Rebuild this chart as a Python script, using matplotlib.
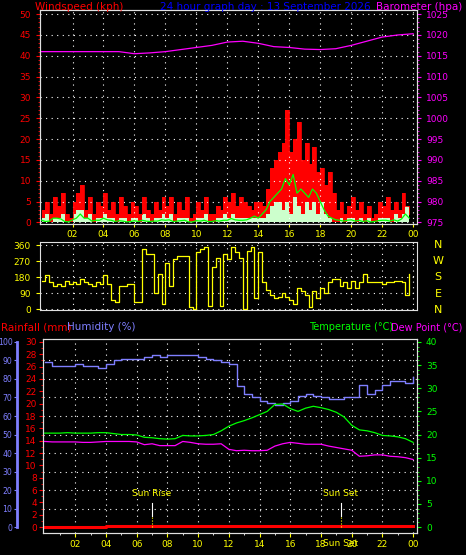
import matplotlib
matplotlib.use("Agg")
import matplotlib.pyplot as plt
import numpy as np

plt.rcParams['font.family'] = ['DejaVu Sans']
FS = 6.5

hours_q = np.arange(96) / 4.0
gust = [3,5,2,6, 4,7,2,1, 5,7,9,3, 6,2,5,4, 7,3,5,2, 6,4,2,5, 4,2,6,3, 2,5,3,6,
        4,6,2,5, 3,6,1,2, 5,3,6,2, 2,4,3,6, 5,7,4,6, 5,4,3,5, 5,4,8,13, 15,17,19,27,
        17,20,24,15, 19,14,18,12, 13,9,12,7, 3,5,2,4, 6,3,5,2, 4,1,2,5, 4,6,3,5, 3,7,4,2]
avgw = [1,2,0,1, 1,2,0,0, 2,3,3,1, 2,0,1,1, 2,1,1,0, 1,1,0,1, 1,0,2,1, 0,1,1,2,
        1,2,0,1, 1,1,0,0, 1,1,2,0, 0,1,1,2, 1,2,1,1, 1,1,1,1, 1,1,2,4, 5,5,3,5,
        2,6,4,2, 5,3,5,2, 5,2,1,0, 0,1,0,1, 1,0,1,0, 1,0,0,1, 1,1,0,2, 1,2,4,1]
avgline = [0.5,0.2,0.3,1, 1,0.8,0.2,0.1, 0.6,1,2,1, 1,0.3,0.5,0.5, 1,0.6,0.5,0.2, 0.4,0.3,0.1,0.2,
           0.4,0.2,0.5,0.3, 0.2,0.3,0.3,0.6, 0.5,0.6,0.2,0.3, 0.4,0.5,0.1,0.1, 0.4,0.3,0.5,0.2,
           0.2,0.4,0.3,0.5, 0.5,0.9,0.6,0.5, 0.5,0.6,1,1.5, 1,2,3,5, 6,7,8,10.5, 9,11.5,7,8,
           7,6,8,7, 5,3,1.5,1, 0.6,0.5,0.3,0.5, 0.6,0.3,0.5,0.2, 0.4,0.1,0.2,0.4, 0.5,0.5,0.3,0.6,
           0.3,0.8,2,1]
hours_h = np.arange(25)
baro = [1016,1016,1016,1016,1016,1016,1015.5,1015.7,1016,1016.5,1017,1017.5,1018.3,1018.5,
        1018,1017.2,1017,1016.6,1016.5,1016.7,1017.5,1018.5,1019.5,1020,1020.3]
wdir = [160,190,150,130, 140,130,160,140, 150,140,170,150, 140,130,150,140, 190,140,50,40,
        130,130,140,140, 40,40,340,310, 310,90,200,30, 260,130,280,300, 300,300,10,0,
        320,340,350,20, 240,290,20,310, 280,350,320,290, 0,330,350,60, 320,150,110,80,
        60,70,90,70, 50,30,120,100, 80,10,100,60, 120,90,150,170, 170,130,150,120,
        160,120,150,200, 150,150,150,150, 140,150,150,160, 160,150,80,200]
hours_30 = np.arange(49) / 2.0
humidity = [89,87,87,87,88,87,87,86,88,90,91,91,91,92,93,92,93,93,93,93,92,91,90,89,88,
            76,72,70,68,67,66,67,68,71,72,71,70,69,69,70,70,77,72,74,77,79,79,78,81]
temperature = [20.3,20.3,20.3,20.4,20.3,20.3,20.3,20.4,20.4,20.2,20.0,20.0,19.9,19.4,19.3,19.1,
               19.0,19.1,19.8,19.7,19.7,19.8,20.0,20.8,21.8,22.5,23.0,23.6,24.3,25.0,26.5,26.6,
               25.6,25.0,25.7,26.1,25.8,25.4,24.8,23.8,22.0,21.0,20.8,20.4,19.8,19.7,19.5,19.1,18.3]
dewpoint = [18.5,18.4,18.4,18.4,18.4,18.3,18.3,18.4,18.5,18.5,18.5,18.5,18.4,17.8,18.0,17.6,
            17.6,17.6,18.5,18.3,18.0,17.9,17.9,18.0,16.8,16.5,16.6,16.5,16.5,16.6,17.5,18.0,
            18.3,18.1,17.9,17.9,17.9,17.5,17.2,16.9,16.6,15.3,15.4,15.6,15.6,15.3,15.2,15.0,14.6]
rain_t = [0, 4, 4, 24]
rain = [0, 0, 0.1, 0.1]
xticks = [2,4,6,8,10,12,14,16,18,20,22,24]
xlabels = ['02','04','06','08','10','12','14','16','18','20','22','00']

W, H = 466, 555
fig = plt.figure(figsize=(W/100, H/100), dpi=100, facecolor='black')
def rect(l, t, r, b):
    return [l/W, 1-b/H, (r-l)/W, (b-t)/H]

YEL = '#ffff00'; RED = '#ff0000'; MAG = '#ff00ff'; BLU = '#7f7fff'; GRN = '#00ff00'

def style(ax):
    ax.set_facecolor('black')
    for s in ax.spines.values():
        s.set_color('#e0e0e0')
    ax.set_xlim(-0.1, 24.25)
    ax.set_xticks(xticks)
    ax.grid(True, color='white', linestyle=(0, (1, 4)), linewidth=0.8)

# Panel 1
ax1 = fig.add_axes(rect(40, 10, 417, 224))
style(ax1)
ax1.set_ylim(-0.4, 51)
ax1.fill_between(hours_q, gust, step='post', color=RED, linewidth=0)
ax1.step(hours_q, gust, where='post', color=RED, linewidth=0.6)
ax1.fill_between(hours_q, avgw, step='post', color='#ccffcc', linewidth=0)
ax1.plot(hours_q, avgline, color=GRN, linewidth=0.9)
ax1.set_yticks(range(0, 51, 5))
ax1.set_yticks(range(0, 51, 1), minor=True)
ax1.tick_params(axis='y', colors=RED, labelsize=FS, direction='out', length=3)
ax1.tick_params(axis='y', which='minor', colors=RED, length=1.5)
ax1.set_xticklabels(xlabels)
ax1.tick_params(axis='x', colors=YEL, labelsize=FS, length=2, pad=2)
ax1b = ax1.twinx()
ax1b.set_ylim(975-0.4, 975+51)
ax1b.plot(hours_h, baro, color=MAG, linewidth=0.9)
ax1b.set_yticks(range(975, 1026, 5))
ax1b.set_yticks(range(975, 1026, 1), minor=True)
ax1b.tick_params(axis='y', colors=MAG, labelsize=FS, length=3)
ax1b.tick_params(axis='y', which='minor', colors=MAG, length=1.5)
for s in ax1b.spines.values():
    s.set_color('#e0e0e0')

fig.text(35/W, 1-7/H, 'Windspeed (kph)', color=RED, fontsize=7.5, va='center')
fig.text(265/W, 1-7/H, '24 hour graph day : 13 September 2026', color='#0000ff', fontsize=7.5, va='center', ha='center')
fig.text(462/W, 1-7/H, 'Barometer (hpa)', color=MAG, fontsize=7.5, va='center', ha='right')

# Panel 2
ax2 = fig.add_axes(rect(40, 242, 417, 310))
style(ax2)
ax2.set_ylim(-5, 378)
ax2.step(hours_q, wdir, where='post', color=YEL, linewidth=0.9)
ax2.set_yticks([0, 90, 180, 270, 360])
ax2.tick_params(axis='y', colors=YEL, labelsize=FS, length=3)
ax2.tick_params(axis='x', labelbottom=False, length=0)
for lab, yy in zip('NWSEN', [245, 261, 277, 294, 310]):
    fig.text(438/W, 1-yy/H, lab, color=YEL, fontsize=8, ha='center', va='center')

# Panel 3
ax3 = fig.add_axes(rect(43, 339, 417, 533))
style(ax3)
ax3.set_ylim(-3.2*0.3, 101.6*0.3)
ax3.plot(rain_t, rain, color=RED, linewidth=2.2)
ax3.set_yticks(range(0, 31, 2))
ax3.set_yticks(range(0, 31, 1), minor=True)
ax3.tick_params(axis='y', colors=RED, labelsize=FS, length=3, pad=1.5)
ax3.tick_params(axis='y', which='minor', colors=RED, length=1.5)
ax3.set_xticks(range(1, 25), minor=True)
ax3.set_xticklabels(xlabels)
ax3.tick_params(axis='x', colors=YEL, labelsize=FS, length=3, pad=2)
ax3.tick_params(axis='x', which='minor', colors='white', length=1.5)
ax3.grid(False, axis='y')
for v in range(10, 100, 10):
    ax3.axhline(v*0.3, color='white', linestyle=(0, (1, 4)), linewidth=0.8)

axh = ax3.twinx()
axh.set_ylim(-3.2, 101.6)
axh.plot(hours_30, humidity, color=BLU, linewidth=1.0, drawstyle='steps-post')
axh.yaxis.set_ticks_position('left')
axh.yaxis.set_label_position('left')
axh.spines['left'].set_position(('outward', 19))
axh.spines['left'].set_color(BLU)
axh.spines['left'].set_linewidth(2)
axh.spines['left'].set_bounds(0, 100)
for k in ['right', 'top', 'bottom']:
    axh.spines[k].set_visible(False)
axh.set_yticks(range(0, 101, 10))
axh.tick_params(axis='y', colors=BLU, labelsize=5.6, length=2, pad=1)

axt = ax3.twinx()
axt.set_ylim(-3.2*0.4, 101.6*0.4)
axt.plot(hours_30, temperature, color=GRN, linewidth=0.9)
axt.plot(hours_30, dewpoint, color=MAG, linewidth=0.9)
axt.set_yticks(range(0, 41, 5))
axt.set_yticks(range(0, 41, 1), minor=True)
axt.tick_params(axis='y', colors=GRN, labelsize=FS, length=3)
axt.tick_params(axis='y', which='minor', colors=GRN, length=1.5)
for s in axt.spines.values():
    s.set_color('#e0e0e0')

for t, lab in [(7.0, 'Sun Rise'), (19.3, 'Sun Set')]:
    axt.plot([t, t], [2.5, 5.2], color='white', linewidth=0.8)
    axt.plot([t, t], [0, 2.5], color=YEL, linewidth=0.8, linestyle=':')
    axt.text(t, 6.2, lab, color=YEL, fontsize=FS, ha='center', va='bottom')
axt.text(19.3, -2.6, 'Sun Set', color=YEL, fontsize=FS, ha='center', va='top')

fig.text(1/W, 1-327/H, 'Rainfall (mm)', color=RED, fontsize=7.5, va='center')
fig.text(67/W, 1-327/H, 'Humidity (%)', color=BLU, fontsize=7.5, va='center')
fig.text(393/W, 1-327/H, 'Temperature (°C)', color=GRN, fontsize=7, va='center', ha='right')
fig.text(462/W, 1-327/H, 'Dew Point (°C)', color=MAG, fontsize=7, va='center', ha='right')

fig.savefig('out.png', dpi=100, facecolor='black')
